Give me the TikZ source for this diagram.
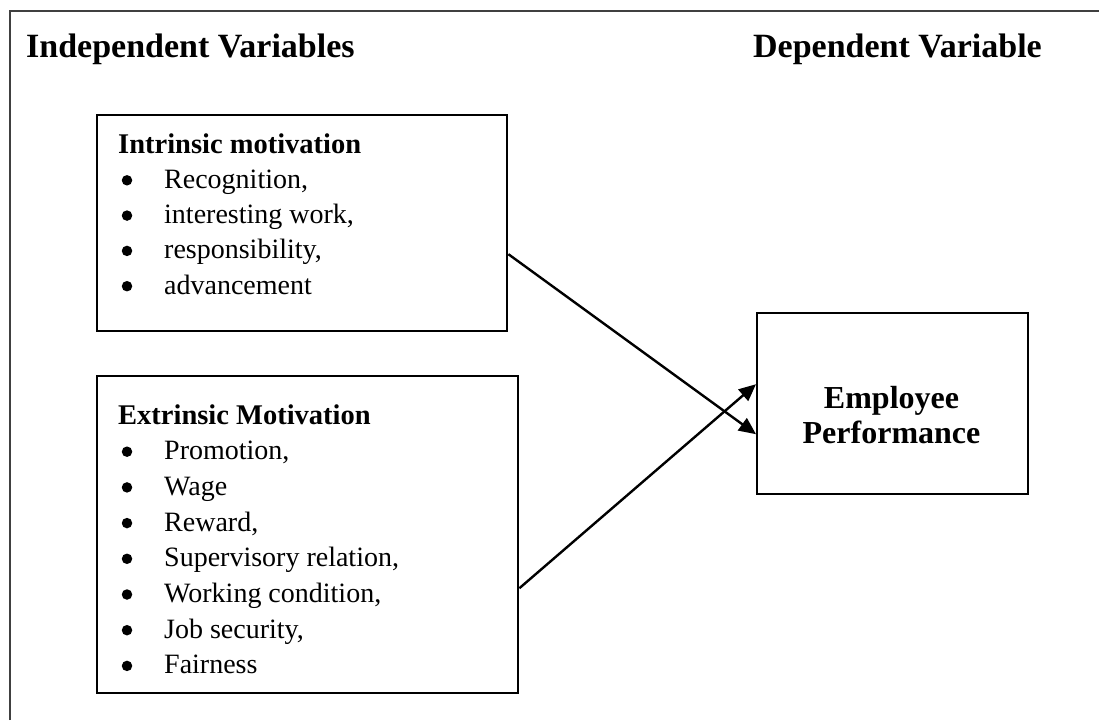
\documentclass[tikz,border=0pt]{standalone}
\usepackage{fontspec}
\setmainfont{Liberation Serif}
\usetikzlibrary{arrows.meta}
\begin{document}
\begin{tikzpicture}[x=1pt,y=-1pt,
  box/.style={draw=black,line width=2.4pt,rectangle,inner sep=0pt,anchor=north west},
  head/.style={font=\fontsize{34}{38}\selectfont\bfseries,inner sep=0pt},
  title/.style={font=\fontsize{28.5}{34}\selectfont\bfseries,inner sep=0pt,anchor=base west},
  item/.style={font=\fontsize{28}{34}\selectfont,inner sep=0pt,anchor=base west},
  dot/.style={circle,fill=black,inner sep=0pt,minimum size=10.5pt},
  arr/.style={line width=2.4pt,-{Triangle[length=17pt,width=15pt]}}]
\useasboundingbox (0,0) rectangle (1099,720);
% outer frame (left and top edges)
\draw[line width=1.3pt,black!75] (10,720) -- (10,11) -- (1099,11);
% column headings
\node[head,anchor=base west] (indep) at (26,57) {Independent Variables};
\node[head,anchor=base east] (dep) at (1042,57) {Dependent Variable};
% boxes
\node[box,minimum width=410pt,minimum height=216pt] (intr) at (96,114) {};
\node[box,minimum width=421pt,minimum height=317pt] (extr) at (96,375) {};
\node[box,minimum width=271pt,minimum height=181pt] (emp) at (756,312) {};
% intrinsic list
\node[title] (ihead) at (118,153) {Intrinsic motivation};
\foreach \t [count=\n] in {Recognition{,},interesting work{,},responsibility{,},advancement}{
  \node[dot] (idot\n) at (127,153+35.3*\n-8) {};
  \node[item] (iitem\n) at (164,153+35.3*\n) {\t};
}
% extrinsic list
\node[title] (ehead) at (118,424) {Extrinsic Motivation};
\foreach \t [count=\n] in {Promotion{,},Wage,Reward{,},Supervisory relation{,},Working condition{,},Job security{,},Fairness}{
  \node[dot] (edot\n) at (127,424+35.7*\n-8) {};
  \node[item] (eitem\n) at (164,424+35.7*\n) {\t};
}
% dependent variable
\node[head,font=\fontsize{32}{35}\selectfont\bfseries,anchor=base] (empa) at (891.5,408) {Employee};
\node[head,font=\fontsize{32}{35}\selectfont\bfseries,anchor=base] (empb) at (891.5,443) {Performance};
% connectors
\draw[arr] ([yshift=-31pt]intr.east) -- ([yshift=-30.5pt]emp.west);
\draw[arr] ([yshift=-53.5pt]extr.east) -- ([yshift=19.5pt]emp.west);
\end{tikzpicture}
\end{document}
